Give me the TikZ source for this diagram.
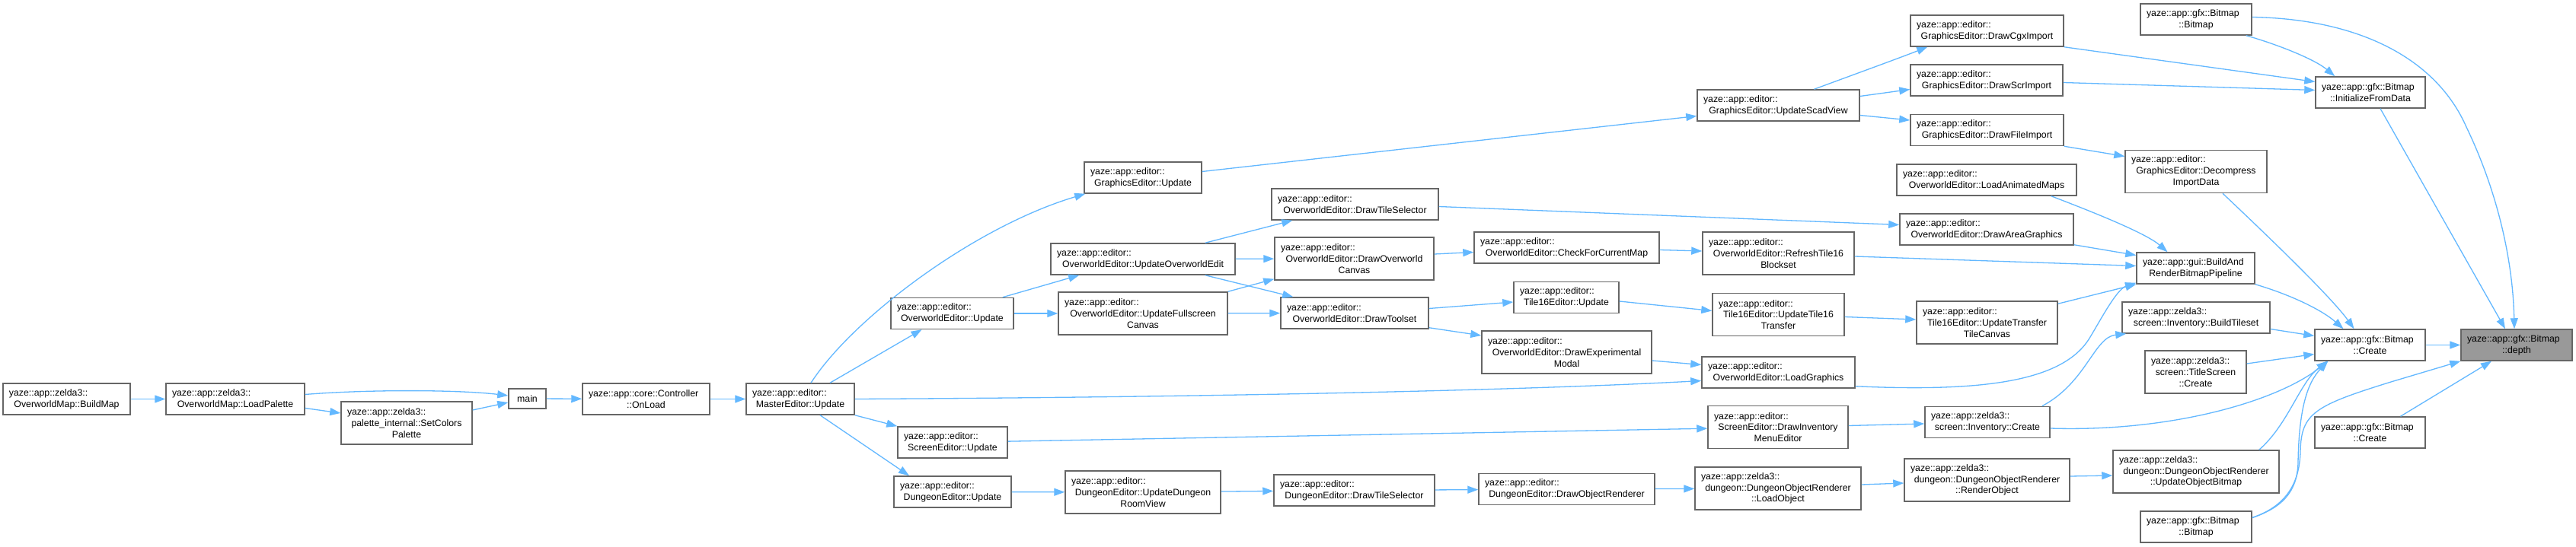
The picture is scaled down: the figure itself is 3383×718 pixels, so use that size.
\documentclass[tikz,border=0pt]{standalone}
\usepackage{fontspec}
\setmainfont{Liberation Sans}
\usetikzlibrary{arrows.meta}
\definecolor{boxc}{HTML}{666666}
\definecolor{edgec}{HTML}{63B8FF}
\definecolor{curc}{HTML}{999999}
\newcommand{\fl}[1]{\makebox[\hsize][l]{#1}}
\newcommand{\nf}{\fontsize{12.3}{14.7}\selectfont}
\begin{document}
\begin{tikzpicture}[x=1pt,y=1pt,
 bx/.style={draw=boxc, line width=1.5pt, fill=white, inner xsep=8pt, inner ysep=2pt, align=center, font=\nf, text width=#1},
 hb/.style={minimum height=41pt}, ht/.style={minimum height=56pt},
 mainbox/.style={draw=boxc, line width=1.5pt, fill=white, font=\nf, minimum width=49pt, minimum height=26pt, inner sep=0pt},
 cn/.style={draw=edgec, line width=1.3pt, -{Triangle[length=14pt,width=10pt]}}]
\useasboundingbox (0,0) rectangle (3383,718);
\fill[white] (0,0) rectangle (3383,718);

\node[bx=151,hb] (buildmap) at (87.5,193.5) {\fl{yaze::app::zelda3::}\\OverworldMap::BuildMap};
\node[bx=166,hb] (loadpal) at (309,193.5) {\fl{yaze::app::zelda3::}\\OverworldMap::LoadPalette};
\node[bx=156,ht] (setcol) at (534,162) {\fl{yaze::app::zelda3::}\\palette\_internal::SetColors\\Palette};
\node[mainbox] (main) at (692.5,194) {main};
\node[bx=151,hb] (onload) at (848.5,193.5) {\fl{yaze::app::core::Controller}\\::OnLoad};
\node[bx=126,hb] (master) at (1051,193.5) {\fl{yaze::app::editor::}\\MasterEditor::Update};
\node[bx=138,hb] (gfxupd) at (1501,484.5) {\fl{yaze::app::editor::}\\GraphicsEditor::Update};
\node[bx=145,hb] (owupd) at (1250.5,306) {\fl{yaze::app::editor::}\\OverworldEditor::Update};
\node[bx=128,hb] (scrupd) at (1251,136.5) {\fl{yaze::app::editor::}\\ScreenEditor::Update};
\node[bx=138,hb] (dunupd) at (1251,71.5) {\fl{yaze::app::editor::}\\DungeonEditor::Update};
\node[bx=226,hb] (owedit) at (1501,377.5) {\fl{yaze::app::editor::}\\OverworldEditor::UpdateOverworldEdit};
\node[bx=206,ht] (fullscr) at (1501,306) {\fl{yaze::app::editor::}\\OverworldEditor::UpdateFullscreen\\Canvas};
\node[bx=188,ht] (roomview) at (1501,71) {\fl{yaze::app::editor::}\\DungeonEditor::UpdateDungeon\\RoomView};
\node[bx=203,hb] (owtilesel) at (1779.5,449.5) {\fl{yaze::app::editor::}\\OverworldEditor::DrawTileSelector};
\node[bx=193,ht] (owcanvas) at (1778.5,378) {\fl{yaze::app::editor::}\\OverworldEditor::DrawOverworld\\Canvas};
\node[bx=178,hb] (toolset) at (1779,306.5) {\fl{yaze::app::editor::}\\OverworldEditor::DrawToolset};
\node[bx=195,hb] (duntilesel) at (1778.5,73.5) {\fl{yaze::app::editor::}\\DungeonEditor::DrawTileSelector};
\node[bx=227,hb] (checkmap) at (2057.5,392.5) {\fl{yaze::app::editor::}\\OverworldEditor::CheckForCurrentMap};
\node[bx=122,hb] (t16upd) at (2057,327) {\fl{yaze::app::editor::}\\Tile16Editor::Update};
\node[bx=207,ht] (expmodal) at (2057.5,255) {\fl{yaze::app::editor::}\\OverworldEditor::DrawExperimental\\Modal};
\node[bx=215,hb] (drawobj) at (2057.5,75) {\fl{yaze::app::editor::}\\DungeonEditor::DrawObjectRenderer};
\node[bx=197,hb] (scad) at (2335.5,579.5) {\fl{yaze::app::editor::}\\GraphicsEditor::UpdateScadView};
\node[bx=183,ht] (refresh) at (2335.5,385) {\fl{yaze::app::editor::}\\OverworldEditor::RefreshTile16\\Blockset};
\node[bx=157,ht] (t16transfer) at (2335.5,304.5) {\fl{yaze::app::editor::}\\Tile16Editor::UpdateTile16\\Transfer};
\node[bx=185,hb] (loadgfx) at (2335.5,228.5) {\fl{yaze::app::editor::}\\OverworldEditor::LoadGraphics};
\node[bx=168,ht] (invmenu) at (2335,156.5) {\fl{yaze::app::editor::}\\ScreenEditor::DrawInventory\\MenuEditor};
\node[bx=202,ht] (loadobj) at (2335,76) {\fl{yaze::app::zelda3::}\\dungeon::DungeonObjectRenderer\\::LoadObject};
\node[bx=185,hb] (cgx) at (2609.5,677.5) {\fl{yaze::app::editor::}\\GraphicsEditor::DrawCgxImport};
\node[bx=184,hb] (scr) at (2609,612.5) {\fl{yaze::app::editor::}\\GraphicsEditor::DrawScrImport};
\node[bx=185,hb] (fileimp) at (2609.5,547) {\fl{yaze::app::editor::}\\GraphicsEditor::DrawFileImport};
\node[bx=220,hb] (animmaps) at (2609,481.5) {\fl{yaze::app::editor::}\\OverworldEditor::LoadAnimatedMaps};
\node[bx=212,hb] (areagfx) at (2609,416.5) {\fl{yaze::app::editor::}\\OverworldEditor::DrawAreaGraphics};
\node[bx=169,ht] (transcanvas) at (2609.5,294) {\fl{yaze::app::editor::}\\Tile16Editor::UpdateTransfer\\TileCanvas};
\node[bx=148,hb] (invcreate) at (2610,163) {\fl{yaze::app::zelda3::}\\screen::Inventory::Create};
\node[bx=201,ht] (renderobj) at (2609.5,87) {\fl{yaze::app::zelda3::}\\dungeon::DungeonObjectRenderer\\::RenderObject};
\node[bx=130,hb] (bmtop) at (2884,692.5) {\fl{yaze::app::gfx::Bitmap}\\::Bitmap};
\node[bx=170,ht] (decomp) at (2884,492.5) {\fl{yaze::app::editor::}\\GraphicsEditor::Decompress\\ImportData};
\node[bx=139,hb] (buildrender) at (2883.5,365.5) {\fl{yaze::app::gui::BuildAnd}\\RenderBitmapPipeline};
\node[bx=178,hb] (buildtiles) at (2884,300.5) {\fl{yaze::app::zelda3::}\\screen::Inventory::BuildTileset};
\node[bx=117,ht] (titlescr) at (2883.5,229) {\fl{yaze::app::zelda3::}\\screen::TitleScreen\\::Create};
\node[bx=202,ht] (updobjbmp) at (2884,98) {\fl{yaze::app::zelda3::}\\dungeon::DungeonObjectRenderer\\::UpdateObjectBitmap};
\node[bx=130,hb] (bmbot) at (2884,25.5) {\fl{yaze::app::gfx::Bitmap}\\::Bitmap};
\node[bx=128,hb] (initdata) at (3113,596.5) {\fl{yaze::app::gfx::Bitmap}\\::InitializeFromData};
\node[bx=129,hb] (create1) at (3112.5,264.5) {\fl{yaze::app::gfx::Bitmap}\\::Create};
\node[bx=129,hb] (create2) at (3112.5,149.5) {\fl{yaze::app::gfx::Bitmap}\\::Create};
\node[bx=130,hb,fill=curc] (depth) at (3305,264.5) {\fl{yaze::app::gfx::Bitmap}\\::depth};

\draw[cn] (buildmap) -- (loadpal);
\draw[cn] ([yshift=6pt]loadpal.east) .. controls (480,206) and (600,206) .. ([yshift=4pt]main.west);
\draw[cn] ([yshift=-12pt]loadpal.east) -- ([yshift=13pt]setcol.west);
\draw[cn] ([yshift=17pt]setcol.east) -- ([yshift=-5pt]main.west);
\draw[cn] (main) -- (onload);
\draw[cn] (onload) -- (master);
\draw[cn] ([xshift=14pt]master.north) .. controls (1120,300) and (1280,420) .. ([xshift=2pt]gfxupd.south west);
\draw[cn] ([xshift=39pt]master.north) -- ([xshift=-40pt]owupd.south);
\draw[cn] (master.east) .. controls (1600,196) and (2000,205) .. ([yshift=-11pt]loadgfx.west);
\draw[cn] (master.south east) -- (scrupd.north west);
\draw[cn] ([xshift=26pt]master.south) -- ([xshift=-57pt]dunupd.north);
\draw[cn] ([yshift=8pt]gfxupd.east) -- ([yshift=-14pt]scad.west);
\draw[cn] ([xshift=-15pt]owupd.north east) -- ([xshift=38pt]owedit.south west);
\draw[cn] (owupd) -- (fullscr);
\draw[cn] ([xshift=-40pt]owedit.north east) -- ([xshift=28pt]owtilesel.south west);
\draw[cn] (owedit) -- (owcanvas);
\draw[cn] ([xshift=-40pt]owedit.south east) -- ([xshift=17pt]toolset.north west);
\draw[cn] (fullscr.north east) -- ([yshift=2pt]owcanvas.south west);
\draw[cn] (fullscr) -- (toolset);
\draw[cn] ([yshift=-3pt]owtilesel.east) -- ([yshift=6pt]areagfx.west);
\draw[cn] ([yshift=6pt]owcanvas.east) -- ([yshift=-6pt]checkmap.west);
\draw[cn] ([yshift=-3pt]checkmap.east) -- ([yshift=3pt]refresh.west);
\draw[cn] ([yshift=-4pt]refresh.east) -- ([yshift=3pt]buildrender.west);
\draw[cn] ([yshift=6pt]toolset.east) -- ([yshift=-6pt]t16upd.west);
\draw[cn] ([yshift=2pt]toolset.south east) -- ([yshift=22pt]expmodal.west);
\draw[cn] ([yshift=-5pt]t16upd.east) -- ([yshift=5pt]t16transfer.west);
\draw[cn] ([yshift=-3pt]t16transfer.east) -- ([yshift=4pt]transcanvas.west);
\draw[cn] ([yshift=-11pt]expmodal.east) -- ([yshift=10pt]loadgfx.west);
\draw[cn] ([yshift=3pt]loadgfx.south east) .. controls (2600,203) and (2710,215) .. (2745,275) .. controls (2760,300) and (2780,338) .. ([yshift=2pt]buildrender.south west);
\draw[cn] ([yshift=-4pt]transcanvas.north east) -- (buildrender.south west);
\draw[cn] ([yshift=1pt]areagfx.south east) -- ([yshift=17pt]buildrender.west);
\draw[cn] ([xshift=-34pt]animmaps.south east) .. controls (2760,435) and (2820,410) .. ([xshift=-37pt]buildrender.north);
\draw[cn] ([xshift=47pt]scad.north) .. controls (2440,622) and (2495,642) .. ([xshift=23pt]cgx.south west);
\draw[cn] ([yshift=12pt]scad.east) -- ([yshift=-12pt]scr.west);
\draw[cn] ([yshift=-13pt]scad.east) -- ([yshift=13pt]fileimp.west);
\draw[cn] (cgx.south east) -- ([yshift=14pt]initdata.west);
\draw[cn] ([yshift=-3pt]scr.east) -- ([yshift=3pt]initdata.west);
\draw[cn] ([xshift=-8pt]bmtop.south east) .. controls (2990,660) and (3040,640) .. ([xshift=26pt]initdata.north west);
\draw[cn] (fileimp.south east) -- ([yshift=20pt]decomp.west);
\draw[cn] ([xshift=35pt]decomp.south) .. controls (2960,425) and (3060,330) .. ([xshift=-21pt]create1.north);
\draw[cn] ([xshift=13pt]initdata.south) -- ([xshift=-15pt]depth.north);
\draw[cn] ([yshift=3pt]bmtop.east) .. controls (3100,693) and (3200,640) .. (3239,551) .. controls (3278,470) and (3300,380) .. ([xshift=-3pt]depth.north);
\draw[cn] (buildrender.south east) .. controls (3010,330) and (3050,310) .. ([xshift=-35pt]create1.north);
\draw[cn] ([yshift=-15pt]buildtiles.east) -- ([yshift=12pt]create1.west);
\draw[cn] ([yshift=11pt]titlescr.east) -- ([yshift=-12pt]create1.west);
\draw[cn] ([yshift=-8pt]invcreate.east) .. controls (2850,150) and (2990,190) .. ([xshift=18pt]create1.south west);
\draw[cn] ([xshift=-27pt]updobjbmp.north east) .. controls (3005,160) and (3020,215) .. ([xshift=17pt]create1.south west);
\draw[cn] ([yshift=12pt]bmbot.east) .. controls (2995,50) and (3017,70) .. (3018,110) .. controls (3019,180) and (3030,215) .. ([xshift=18pt]create1.south west);
\draw[cn] ([yshift=12pt]bmbot.east) .. controls (3000,52) and (3020,80) .. (3021,125) .. controls (3022,175) and (3040,185) .. (3140,216) -- (depth.south west);
\draw[cn] (create1) -- (depth);
\draw[cn] ([xshift=40pt]create2.north) -- ([xshift=-33pt]depth.south);
\draw[cn] ([yshift=5pt]renderobj.east) -- ([yshift=-5pt]updobjbmp.west);
\draw[cn] ([yshift=5pt]loadobj.east) -- ([yshift=-4pt]renderobj.west);
\draw[cn] (drawobj) -- (loadobj);
\draw[cn] (duntilesel) -- (drawobj);
\draw[cn] (roomview) -- (duntilesel);
\draw[cn] (dunupd) -- (roomview);
\draw[cn] (scrupd) -- (invmenu);
\draw[cn] ([yshift=2pt]invmenu.east) -- ([yshift=-2pt]invcreate.west);
\draw[cn] ([xshift=-11pt]invcreate.north east) .. controls (2740,215) and (2750,275) .. ([xshift=6pt]buildtiles.south west);
\end{tikzpicture}
\end{document}
